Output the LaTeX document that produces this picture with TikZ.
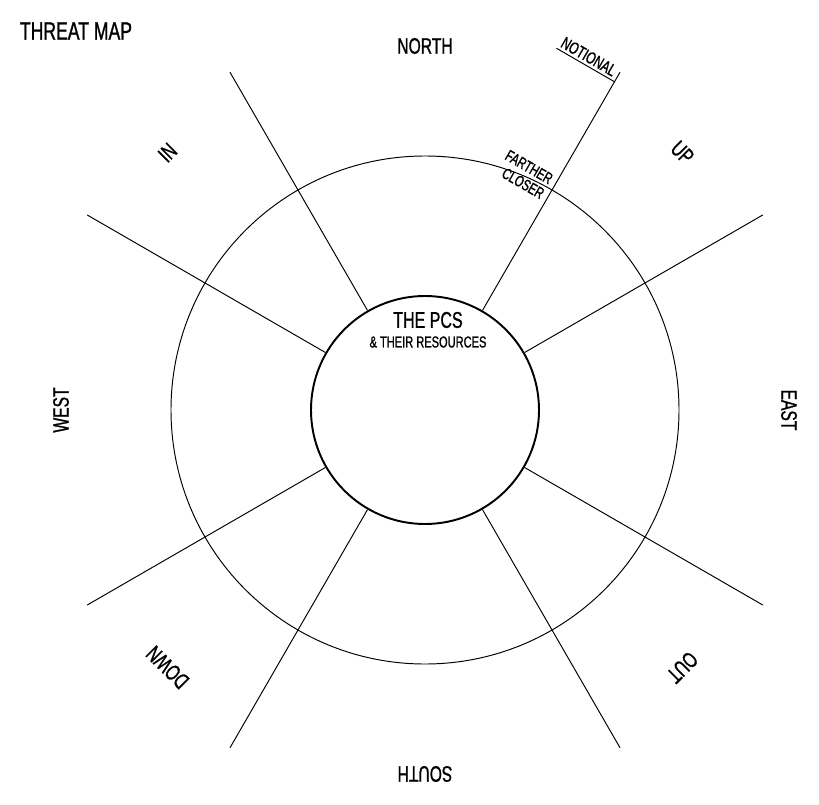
\documentclass[tikz,border=0pt]{standalone}
\usepackage{fontspec}
\setmainfont{Liberation Sans}[FakeStretch=0.7, FakeBold=1]
\usetikzlibrary{calc}

\begin{document}
\begin{tikzpicture}[
        ring/.style={
        circle,
        draw=black,
        inner sep=0pt},
    spoke/.style={draw=black, line width=0.55pt},
    compass/.style={font=\fontsize{12.7}{14}\selectfont, inner sep=1pt},
    tag/.style={font=\fontsize{9}{10}\selectfont, inner ysep=1.5pt, inner xsep=3pt, rotate=-30}
    ]
    \useasboundingbox (-8.5,-7.88) rectangle (7.88,8.2);

    \node[font=\fontsize{14.3}{16}\selectfont] (title) at (-6.98,7.58) {THREAT MAP};

    \node[ring, line width=0.55pt, minimum size=10.16cm] (range) at (0,0) {};
    \node[ring, line width=1.1pt, minimum size=4.56cm] (pcs) at (0,0) {};
    \node[font=\fontsize{13}{15}\selectfont] (pcstitle) at (0.06,1.8) {THE PCS};
    \node[font=\fontsize{9}{10}\selectfont] (pcssub) at (0.06,1.36) {\& THEIR RESOURCES};

    % spokes from the inner circle outwards
    \foreach \a in {30,60,120,150,210,240,300,330} {
        \coordinate (end\a) at (\a:7.8);
        \draw[spoke] (pcs.\a) -- (end\a);
    }

    \foreach \a/\txt in {% angle/text
        90/NORTH,
        0/EAST,
        270/SOUTH,
        180/WEST,
        45/UP,
        135/IN,
        225/DOWN,
        315/OUT}
        \node[compass, rotate=\a-90] (dir\txt) at (\a:7.28) {\txt};

    % range marks on the 60 degree spoke
    \coordinate (notional) at (60:7.58);
    \coordinate (tickend) at ($(notional)+(150:1.34)$);
    \coordinate (tickmid) at ($(notional)!0.52!(tickend)$);
    \draw[spoke] (tickend) -- (notional);
    \node[tag, anchor=south, inner ysep=1.5pt, font=\fontsize{9.6}{11}\selectfont] (notionaltxt) at (tickmid) {NOTIONAL};

    \coordinate (cross) at (60:5.08);
    \node[tag, anchor=south east] (farther) at (cross) {FARTHER};
    \node[tag, anchor=north east] (closer) at (cross) {CLOSER};
    \end{tikzpicture}
\end{document}
